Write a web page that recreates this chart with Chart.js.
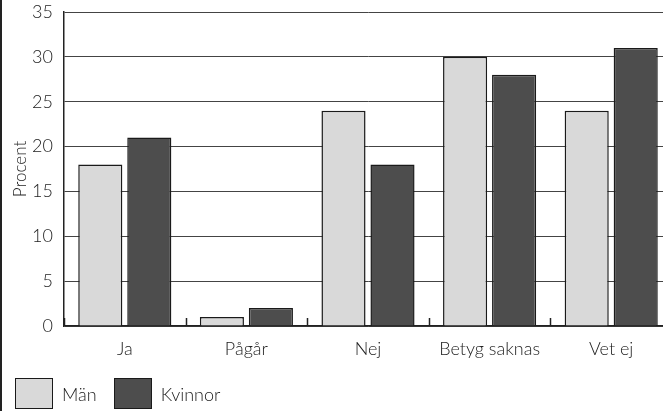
<!DOCTYPE html>
<html><head><meta charset="utf-8">
<script src="https://cdn.jsdelivr.net/npm/chart.js@4/dist/chart.umd.min.js"></script>
<style>
html,body{margin:0;padding:0;background:#fff;overflow:hidden;}
#wrap{position:relative;width:663px;height:411px;overflow:hidden;font-family:Lato,'Open Sans',sans-serif;color:#222;}
#wrap:before{content:"";position:absolute;left:0;top:0;width:2px;height:411px;background:#222;z-index:2;}
#c{position:absolute;left:0;top:0;}
#legend{position:absolute;left:15px;top:378px;height:31px;display:flex;align-items:center;font-size:18px;font-weight:300;}
#legend .item{display:flex;align-items:center;margin-right:17px;}
#legend .box{width:36px;height:29px;border:1.5px solid #1a1a1a;margin-right:9px;}
</style></head><body>
<div id="wrap"><canvas id="c" width="672" height="411"></canvas><div id="legend"></div></div>
<script>
const categories = ["Ja", "Pågår", "Nej", "Betyg saknas", "Vet ej"];
const man = [18, 1, 24, 30, 24];
const kvinnor = [21, 2, 18, 28, 31];
const yTicks = [0, 5, 10, 15, 20, 25, 30, 35];
const seriesNames = ["Män", "Kvinnor"];
const seriesColors = ["#d9d9d9", "#4d4d4d"];

const FONT = "Lato, 'Open Sans', sans-serif";

const innerTicks = {
  id: 'innerTicks',
  afterDraw(chart) {
    const x = chart.scales.x, ctx = chart.ctx, bottom = chart.chartArea.bottom;
    ctx.save();
    ctx.strokeStyle = '#222';
    ctx.lineWidth = 1.5;
    for (let i = 0; i <= categories.length; i++) {
      const px = Math.round(x.getPixelForValue(i - 0.5)) + 0.5;
      ctx.beginPath();
      ctx.moveTo(px, bottom);
      ctx.lineTo(px, bottom - 8);
      ctx.stroke();
    }
    ctx.restore();
  }
};

const chart = new Chart(document.getElementById('c'), {
  type: 'bar',
  data: {
    labels: categories,
    datasets: [
      { label: seriesNames[0], data: man, backgroundColor: seriesColors[0], borderColor: '#1a1a1a', borderWidth: 1.5 },
      { label: seriesNames[1], data: kvinnor, backgroundColor: seriesColors[1], borderColor: '#1a1a1a', borderWidth: 1.5 }
    ]
  },
  options: {
    responsive: false,
    animation: false,
    devicePixelRatio: 1,
    categoryPercentage: 0.806,
    barPercentage: 0.9,
    layout: { padding: { left: 2, right: 0, top: 12, bottom: 52 } },
    plugins: { tooltip: { enabled: false }, legend: { display: false } },
    scales: {
      x: {
        afterFit(s) { s.height = 33; s.paddingLeft = 0; s.paddingRight = 0; },
        grid: { display: false, drawTicks: false },
        border: { display: true, color: '#222', width: 1.5 },
        ticks: { color: '#222', font: { family: FONT, size: 18, weight: 300 }, padding: 12 }
      },
      y: {
        min: 0, max: 35,
        afterBuildTicks(scale) { scale.ticks = yTicks.map(v => ({ value: v })); },
        afterFit(s) { s.width = 62; s.paddingTop = 0; s.paddingBottom = 0; },
        grid: { color: '#444', lineWidth: 1, drawTicks: false },
        border: { display: true, color: '#222', width: 1.5 },
        ticks: { color: '#222', font: { family: FONT, size: 18, weight: 300 }, padding: 11 },
        title: { display: true, text: 'Procent', color: '#222', font: { family: FONT, size: 17, weight: 300 }, padding: { top: 8, bottom: 0 } }
      }
    }
  },
  plugins: [innerTicks]
});

const legend = document.getElementById('legend');
chart.data.datasets.forEach(d => {
  const item = document.createElement('div'); item.className = 'item';
  const box = document.createElement('div'); box.className = 'box'; box.style.background = d.backgroundColor;
  const t = document.createElement('span'); t.textContent = d.label;
  item.appendChild(box); item.appendChild(t); legend.appendChild(item);
});
</script>
</body></html>
